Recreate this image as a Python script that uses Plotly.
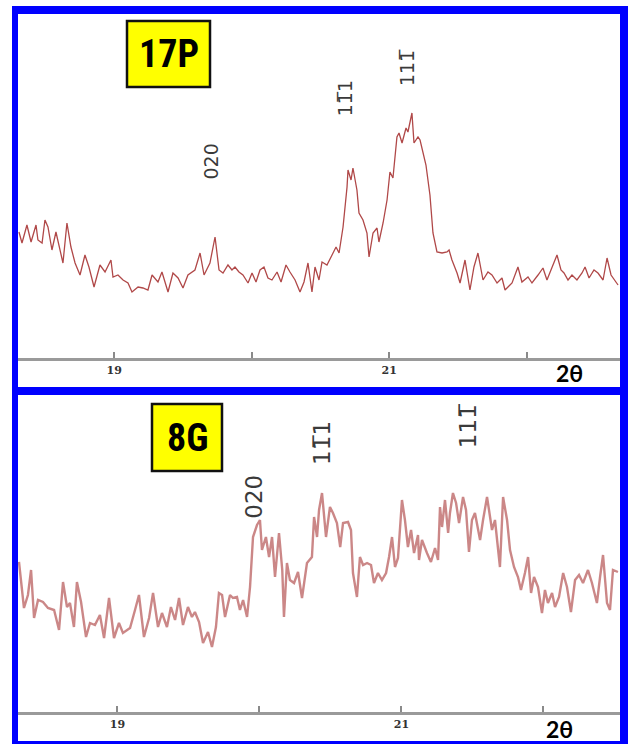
import plotly.graph_objects as go

# ---------------- data ----------------
# Panel 17P : 2theta (deg) and intensity (arb. units)
two_theta_17p = [
    18.307, 18.329, 18.365, 18.395, 18.431, 18.445, 18.475, 18.496, 18.518, 18.547,
    18.576, 18.591, 18.627, 18.656, 18.685, 18.715, 18.751, 18.787, 18.816, 18.853,
    18.896, 18.933, 18.976, 18.991, 19.027, 19.064, 19.100, 19.129, 19.173, 19.209,
    19.245, 19.275, 19.318, 19.347, 19.391, 19.427, 19.464, 19.500, 19.536, 19.587,
    19.624, 19.653, 19.696, 19.733, 19.762,
    19.791, 19.827, 19.856, 19.878, 19.907, 19.936, 19.973, 20.002, 20.031, 20.060,
    20.089, 20.118, 20.147, 20.184, 20.213, 20.249, 20.278, 20.315, 20.351, 20.380,
    20.409, 20.438, 20.460, 20.489, 20.511, 20.547, 20.584, 20.613, 20.635, 20.664,
    20.693, 20.700, 20.722, 20.736, 20.765, 20.780, 20.809, 20.838, 20.853, 20.882,
    20.911, 20.925, 20.955, 20.984, 21.005, 21.027, 21.056, 21.071, 21.093, 21.122,
    21.136, 21.165, 21.180, 21.209, 21.224, 21.267, 21.296, 21.318, 21.347,
    21.384, 21.420, 21.435, 21.456, 21.493, 21.515, 21.551, 21.587, 21.616, 21.645,
    21.682, 21.718, 21.747, 21.784, 21.820, 21.842, 21.893, 21.936, 21.965, 22.009,
    22.038, 22.082, 22.118, 22.147, 22.184, 22.220, 22.249, 22.271, 22.300, 22.329,
    22.365, 22.402, 22.424, 22.453, 22.489, 22.518, 22.555, 22.584, 22.613, 22.642,
    22.664,
]
intensity_17p = [
    126, 115, 133, 116, 133, 118, 115, 138, 131, 108,
    126, 116, 95, 135, 111, 95, 83, 103, 91, 71,
    93, 86, 98, 81, 83, 78, 75, 66, 71, 70,
    68, 83, 76, 86, 66, 85, 80, 70, 83, 88,
    105, 83, 95, 121, 88,
    85, 93, 88, 91, 86, 83, 75, 85, 76, 88,
    91, 80, 78, 86, 76, 93, 86, 78, 66, 76,
    95, 66, 91, 78, 96, 93, 103, 111, 105, 131,
    171, 188, 178, 190, 168, 145, 138, 125, 101, 125,
    130, 116, 135, 158, 186, 180, 221, 225, 215, 230,
    226, 245, 215, 221, 218, 193, 163, 125, 106,
    105, 106, 108, 98, 85, 75, 98, 68, 91, 105,
    78, 86, 83, 75, 80, 68, 75, 91, 76, 81,
    75, 83, 90, 78, 90, 103, 88, 85, 78, 83,
    78, 85, 91, 80, 88, 85, 78, 100, 83, 78,
    73,
]

# Panel 8G : 2theta (deg) and intensity (arb. units)
two_theta_8g = [
    18.307, 18.342, 18.370, 18.392, 18.413, 18.441, 18.476, 18.511, 18.554, 18.589,
    18.617, 18.645, 18.666, 18.694, 18.715, 18.744, 18.779, 18.807, 18.842, 18.877,
    18.906, 18.941, 18.976, 19.011, 19.039, 19.089, 19.124, 19.152, 19.187, 19.223,
    19.251, 19.286, 19.314, 19.349, 19.377, 19.406, 19.434, 19.462, 19.497, 19.525,
    19.546, 19.575, 19.603, 19.638, 19.666, 19.694, 19.715,
    19.737, 19.758, 19.793, 19.814, 19.842, 19.863, 19.885, 19.913, 19.934, 19.955,
    19.983, 20.004, 20.018, 20.046, 20.068, 20.089, 20.110, 20.138, 20.161, 20.173,
    20.194, 20.215, 20.244, 20.272, 20.300, 20.335, 20.370, 20.385, 20.406, 20.420,
    20.441, 20.469, 20.497, 20.518, 20.546, 20.569, 20.589, 20.624, 20.645, 20.659,
    20.687, 20.708, 20.730, 20.758, 20.786, 20.807, 20.835, 20.863, 20.892, 20.913,
    20.934, 20.955, 20.976, 21.004, 21.025, 21.046, 21.068, 21.089, 21.117,
    21.124, 21.145, 21.180, 21.208, 21.237, 21.258, 21.272, 21.286, 21.307, 21.329,
    21.342, 21.363, 21.385, 21.406, 21.434, 21.455, 21.476, 21.497, 21.518, 21.554,
    21.575, 21.603, 21.617, 21.638, 21.659, 21.694, 21.716, 21.744, 21.765, 21.793,
    21.821, 21.842, 21.870, 21.892, 21.913, 21.934, 21.962, 21.990, 22.011, 22.032,
    22.061, 22.082, 22.110, 22.139, 22.166, 22.194, 22.223, 22.251, 22.279, 22.314,
    22.342, 22.377, 22.399, 22.420, 22.448, 22.469, 22.490, 22.525,
]
intensity_8g = [
    150, 104, 117, 142, 94, 112, 110, 104, 102, 82,
    130, 105, 109, 85, 130, 110, 75, 89, 87, 97,
    74, 114, 74, 89, 79, 84, 102, 117, 75, 94,
    119, 85, 99, 85, 105, 92, 114, 87, 105, 95,
    100, 90, 69, 80, 65, 85, 119,
    117, 95, 117, 114, 115, 102, 112, 95, 125, 175,
    187, 192, 162, 175, 155, 175, 135, 179, 142, 95,
    149, 132, 129, 140, 114, 149, 155, 195, 175, 202,
    219, 175, 205, 199, 189, 165, 189, 190, 182, 139,
    115, 155, 147, 149, 147, 129, 139, 132, 139, 155,
    175, 145, 154, 212, 192, 165, 182, 159, 177,
    152, 172, 159, 150, 164, 152, 205, 185, 212, 179,
    199, 219, 209, 189, 215, 202, 160, 192, 199, 172,
    192, 215, 202, 182, 192, 145, 215, 192, 162, 145,
    135, 122, 139, 155, 119, 135, 125, 99, 122, 109,
    119, 105, 115, 139, 125, 100, 132, 137, 129, 142,
    129, 109, 135, 157, 109, 102, 142, 140,
]

tick_vals = [19, 20, 21, 22]
tick_text = ["19", "", "21", ""]

peak_labels = ["020", "11\u03051", "111\u0305"]
peak_pos_17p = [19.70, 20.68, 21.13]
peak_pos_8g = [19.96, 20.44, 21.47]
sample_names = ["17P", "8G"]

# ---------------- figure ----------------
W, H = 628, 744


def px(x):
    return x / W


def py(y):
    return 1 - y / H


fig = go.Figure()
fig.add_trace(go.Scatter(x=two_theta_17p, y=intensity_17p, mode="lines",
                         line=dict(color="#b04848", width=1.3),
                         xaxis="x", yaxis="y", showlegend=False))
fig.add_trace(go.Scatter(x=two_theta_8g, y=intensity_8g, mode="lines",
                         line=dict(color="rgba(190,105,105,0.8)", width=2.4),
                         xaxis="x2", yaxis="y2", showlegend=False))

axis_common = dict(
    showgrid=False, zeroline=False, showline=True, linecolor="#9a9a9a", linewidth=2.5,
    ticks="inside", ticklen=6, tickwidth=1.5, tickcolor="#8a8a8a",
    tickvals=tick_vals, ticktext=tick_text,
    tickfont=dict(family="DejaVu Serif", size=11, color="#333333", weight="bold"),
    fixedrange=True,
)

fig.update_layout(
    width=W, height=H,
    margin=dict(l=0, r=0, t=0, b=0),
    paper_bgcolor="white", plot_bgcolor="white",
    xaxis=dict(domain=[px(18), px(620)], range=[18.30, 18.30 + 602 / 137.5],
               anchor="y", **axis_common),
    yaxis=dict(domain=[py(358), py(15)], range=[0, 343], visible=False),
    xaxis2=dict(domain=[px(18), px(620)], range=[18.30, 18.30 + 602 / 142],
                anchor="y2", **axis_common),
    yaxis2=dict(domain=[py(712), py(396)], range=[0, 316], visible=False),
)

shapes = []
blue = "#0000ff"
# blue frame bars
for (x0, y0, x1, y1) in [(12, 6, 18, 744), (620, 6, 628, 744), (12, 6, 628, 14),
                         (12, 387, 628, 395), (12, 741, 628, 744)]:
    shapes.append(dict(type="rect", xref="paper", yref="paper",
                       x0=px(x0), x1=px(x1), y0=py(y1), y1=py(y0),
                       fillcolor=blue, line=dict(width=0), layer="above"))
# yellow label boxes
for (x0, y0, x1, y1) in [(127, 21, 210, 87), (152, 404, 222, 471)]:
    shapes.append(dict(type="rect", xref="paper", yref="paper",
                       x0=px(x0), x1=px(x1), y0=py(y1), y1=py(y0),
                       fillcolor="#ffff00", line=dict(color="#111111", width=2.5),
                       layer="above"))
fig.update_layout(shapes=shapes)

ann = []
box_font = dict(family="Liberation Sans Narrow, Roboto Condensed, Arial Narrow, sans-serif",
                size=38, color="black")
ann.append(dict(x=px(168.5), y=py(54), xref="paper", yref="paper", text="<b>17P</b>",
                showarrow=False, font=box_font, xanchor="center", yanchor="middle"))
ann.append(dict(x=px(187), y=py(437.5), xref="paper", yref="paper", text="<b>8G</b>",
                showarrow=False, font=box_font, xanchor="center", yanchor="middle"))

# peak labels (rotated)
top_label_y = [162, 98, 68]
bot_label_y = [497, 443, 426]
for lbl, xv, yv in zip(peak_labels, peak_pos_17p, top_label_y):
    ann.append(dict(x=xv, xref="x", y=py(yv), yref="paper", text=lbl, textangle=-90,
                    showarrow=False, font=dict(family="DejaVu Sans", size=19, color="#3a3a3a"),
                    xanchor="center", yanchor="middle"))
for lbl, xv, yv in zip(peak_labels, peak_pos_8g, bot_label_y):
    ann.append(dict(x=xv, xref="x2", y=py(yv), yref="paper", text=lbl, textangle=-90,
                    showarrow=False, font=dict(family="DejaVu Sans", size=23, color="#3a3a3a"),
                    xanchor="center", yanchor="middle"))

# 2theta axis titles
for xx, yy in [(569, 373), (559, 729)]:
    ann.append(dict(x=px(xx), y=py(yy), xref="paper", yref="paper", text="2θ",
                    showarrow=False,
                    font=dict(family="Lato", size=23, color="black", weight="bold"),
                    xanchor="center", yanchor="middle"))
fig.update_layout(annotations=ann)

fig.write_html("out.html")
